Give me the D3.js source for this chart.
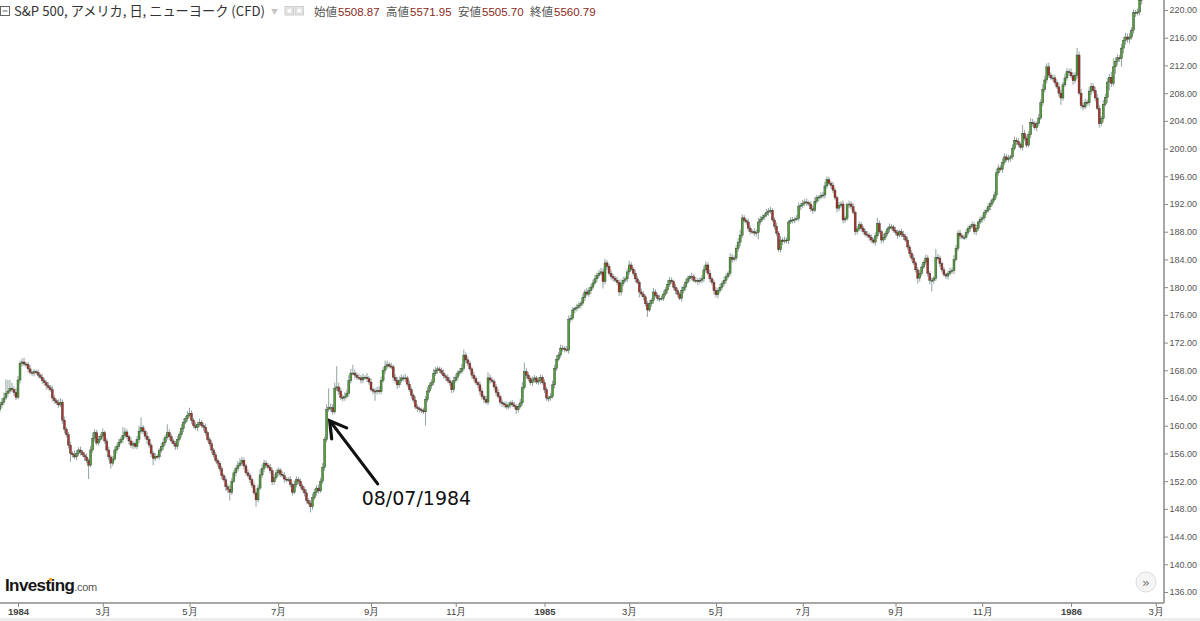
<!DOCTYPE html>
<html>
<head>
<meta charset="utf-8">
<title>S&amp;P 500 日足</title>
<style>
    body { margin: 0; background: #fff; }
    svg { display: block; }
    .ax text { font-family: 'Liberation Sans', Arial, sans-serif; }
</style>
</head>
<body>
<div id="chart"></div>
<script src="https://cdn.jsdelivr.net/npm/d3@7/dist/d3.min.js"></script>
<script>

// daily bars, one per weekday from this date
const firstDay = '1983-12-20'
const firstOpen = 162.0

const closes = [
    162.3,163.0,163.4,164.0,164.7,165.0,165.4,165.2,164.8,164.1,
    166.6,169.0,169.2,168.9,168.8,168.2,167.7,167.6,167.8,167.7,
    167.3,167.0,166.5,166.2,165.8,165.5,165.2,164.0,163.6,163.3,
    163.0,163.4,160.8,159.5,158.7,157.2,156.0,155.8,155.5,156.0,
    156.5,156.2,155.8,155.5,155.0,154.3,156.5,158.2,159.0,157.5,
    158.0,158.5,159.0,157.8,156.5,155.5,154.6,155.2,156.5,157.0,
    157.6,158.0,158.6,159.1,158.4,157.8,157.2,157.4,157.0,158.0,
    159.2,159.7,159.2,158.5,158.0,157.2,156.0,155.3,155.6,155.5,
    156.4,157.0,157.6,158.3,159.0,158.4,157.8,157.4,157.0,158.0,
    158.7,159.6,160.5,161.0,161.5,161.8,160.8,160.0,159.7,160.2,
    160.5,160.0,159.8,159.0,158.0,157.4,156.5,155.8,155.0,154.6,
    153.8,152.8,152.2,151.2,150.8,150.4,152.0,153.2,153.8,154.3,
    154.6,155.0,154.2,153.2,152.8,152.2,151.4,150.3,149.3,151.0,
    152.9,153.8,154.6,154.3,154.0,153.5,151.9,152.5,153.2,153.6,
    153.0,152.8,152.3,152.2,152.2,151.5,150.4,151.5,152.2,152.0,
    151.3,150.8,150.3,149.2,148.8,148.3,149.6,150.4,151.0,150.6,
    152.0,154.0,158.0,162.3,162.6,162.6,162.0,165.4,165.6,165.0,
    164.1,164.0,164.2,164.7,166.5,167.6,167.6,167.3,167.0,166.9,
    166.6,167.0,167.0,166.8,166.3,165.2,165.0,164.9,165.1,164.9,
    166.5,168.0,168.6,168.8,168.6,168.5,167.0,166.5,165.9,166.5,
    166.9,166.8,166.9,166.0,165.2,164.4,163.7,162.7,162.5,162.3,
    162.2,162.0,163.8,165.0,165.8,166.2,167.5,168.0,168.2,168.0,
    167.6,167.2,167.0,166.5,166.2,165.2,166.5,167.0,167.6,167.8,
    168.3,170.2,169.5,169.0,168.2,167.3,166.8,166.2,165.9,165.0,
    164.2,163.8,163.4,166.9,166.6,166.4,165.6,164.8,164.2,163.4,
    163.2,163.0,162.7,163.0,163.3,163.0,162.8,162.3,162.8,163.3,
    165.5,167.8,167.3,166.8,166.2,166.6,166.9,166.3,166.5,167.0,
    166.2,165.2,164.0,164.0,164.2,165.9,168.3,169.6,170.2,171.2,
    171.2,171.0,170.9,175.3,175.5,176.7,176.9,177.1,177.4,177.7,
    178.5,179.3,179.0,179.5,180.0,180.6,181.2,181.7,182.0,182.2,
    180.8,183.5,183.0,182.0,181.5,181.3,181.0,180.7,179.3,180.5,
    181.0,181.2,182.2,183.2,182.6,182.0,181.2,180.7,179.3,179.0,
    178.6,177.6,176.7,177.6,178.1,179.3,178.8,178.4,178.4,178.4,
    179.0,179.6,180.4,181.0,180.8,180.0,179.5,179.0,178.4,179.5,
    180.0,180.7,181.2,181.5,181.5,181.0,181.0,180.8,181.0,181.2,
    182.5,183.2,182.0,181.2,180.7,179.5,178.9,179.5,180.0,180.5,
    181.0,181.5,182.0,184.3,184.0,184.2,185.6,186.5,187.5,190.0,
    189.6,189.4,188.5,188.0,188.0,187.8,187.9,189.4,189.8,190.1,
    190.4,190.8,191.0,191.1,189.7,188.8,187.8,185.4,186.8,186.6,
    186.8,186.7,189.4,189.6,189.7,189.8,189.9,191.6,191.8,192.1,
    192.3,192.2,192.0,191.3,191.1,192.4,192.9,193.0,193.2,193.3,
    194.6,195.5,195.0,194.7,194.0,192.9,191.4,191.8,192.0,189.7,
    189.9,191.9,192.0,191.6,190.8,188.0,188.4,189.0,188.5,188.0,
    187.6,187.5,187.2,186.8,186.5,187.4,189.2,188.0,186.8,187.2,
    187.7,188.4,188.7,188.7,188.2,187.9,187.5,188.0,187.6,187.3,
    186.8,185.8,184.9,184.2,183.5,182.5,181.3,182.0,182.9,183.6,
    184.2,182.0,181.0,181.0,181.3,184.3,184.2,183.4,182.5,181.8,
    181.6,182.0,182.3,182.4,184.0,185.6,187.8,187.4,187.2,187.2,
    187.9,188.5,188.8,189.0,188.0,188.5,189.4,189.8,190.0,190.8,
    191.1,191.6,192.1,192.6,193.3,196.5,197.2,197.0,198.0,198.8,
    198.4,198.6,198.8,200.0,201.2,201.0,200.6,200.2,202.2,201.5,
    200.5,202.0,203.8,203.6,203.0,203.6,204.4,206.6,208.5,209.9,
    211.8,210.6,210.2,210.2,209.5,208.9,208.0,207.3,209.2,210.2,
    211.1,211.0,210.5,209.8,210.6,213.5,208.0,206.2,206.0,206.7,
    206.6,208.3,209.0,208.4,207.3,205.8,203.6,204.3,206.4,207.4,
    209.6,210.3,209.4,211.8,212.6,213.1,213.0,214.5,215.6,216.1,
    215.8,216.1,217.1,219.6,219.6,219.7,221.4,223.0
]

// how far each day's high / low reached past the body (index points)
const wickUp = [
    .4,.5,.6,.8,2.0,1.6,1.2,.8,.5,.6,
    .6,.4,.5,.6,.3,.4,.5,.3,.4,.3,
    .4,.3,.5,.4,.3,.5,.4,.6,.4,.3,
    .5,.6,.4,.5,.3,.4,.5,.3,.6,.5,
    .4,.5,.3,.4,.5,.3,.6,.8,.5,.4,
    .5,.4,.6,.3,.4,.5,.3,.4,.5,.4,
    .5,.4,1.2,.6,.4,.3,.5,.4,.3,.5,
    .8,1.5,.4,.3,.5,.4,.3,.4,.5,.3,
    .4,.5,.6,.4,1.2,.5,.4,.3,.4,.5,
    .5,.6,.5,.4,.6,.8,.4,.3,.5,.4,
    .5,.3,.4,.5,.3,.4,.5,.3,.4,.3,
    .3,.4,.3,.5,.4,.6,.5,.4,.3,.6,
    .7,.5,.4,.3,.5,.4,.3,.4,.6,.5,
    .8,.6,.5,.4,.3,.5,.4,.6,.5,.4,
    .3,.4,.5,.3,.4,.5,.3,.6,.5,.4,
    .4,.3,.4,.5,.3,.4,.6,.5,.4,.5,
    .5,.6,.4,.8,2.8,.6,.5,.8,3.0,.6,
    .5,.4,.6,.5,.8,.6,1.2,.5,.4,.5,
    .4,.5,.3,.6,.4,.5,.3,.4,.5,.6,
    .6,.5,.8,.6,.4,.5,.3,.4,.5,.6,
    .5,.4,.6,.3,.5,.4,.3,.5,.4,.3,
    .3,.4,.5,.6,.4,.5,.7,.5,.4,.3,
    .4,.5,.3,.4,.5,.3,.6,.5,.4,.5,
    .6,.8,.4,.5,.4,.3,.5,.4,.3,.5,
    .4,.3,.5,.8,.5,.4,.3,.4,.5,.3,
    .4,.3,.5,.4,.3,.4,.5,.3,.4,.6,
    .8,1.3,.5,.4,.3,.5,.4,.3,.5,.4,
    .3,.5,.4,.3,.5,.6,.5,.6,.4,.5,
    .4,.3,.5,.6,.5,.4,.3,.5,.4,.3,
    .5,.4,.6,.5,.4,.5,.6,.4,.5,.6,
    .5,.6,.4,.3,.5,.4,.3,.5,.4,.6,
    .5,.4,.5,.6,.4,.3,.5,.4,.3,.5,
    .4,.3,.4,.5,.3,.6,.4,.3,.5,.4,
    .5,.4,.6,.5,.4,.3,.5,.4,.3,.6,
    .4,.5,.4,.3,.6,.4,.5,.3,.4,.5,
    .6,.5,.4,.5,.3,.4,.5,.4,.5,.4,
    .5,.4,.3,.6,.5,.4,.5,.6,.8,.5,
    .4,.3,.5,.4,.3,.5,.4,.6,.5,.4,
    .3,.5,.4,.5,.3,.4,.5,.3,.6,.4,
    .5,.4,.3,.5,.4,.3,.5,.6,.4,.5,
    .4,.5,.3,.4,.5,.6,.4,.3,.5,.4,
    .6,.5,.4,.3,.5,.4,.3,.5,.4,.5,
    .4,.3,.5,.4,.5,.3,.4,.5,.4,.3,
    .4,.5,.3,.4,.3,.5,.8,.4,.3,.5,
    .4,.3,.5,.4,.3,.5,.4,.3,.4,.5,
    .4,.5,.3,.4,.5,.3,.4,.5,.4,.3,
    .5,.4,.3,.4,.3,1.2,.5,.4,.3,.4,
    .3,.4,.5,.4,.6,.5,.4,.5,.3,.4,
    .5,.4,.3,.5,.4,.5,.3,.4,.5,.4,
    .4,.5,.4,.3,.5,.6,.5,.4,.6,.5,
    .4,.5,.3,.6,.5,.4,.5,.3,1.2,.5,
    .4,.5,.6,.5,.4,.3,.6,.5,.8,.6,
    .5,.6,.4,.5,.4,.5,.6,.5,.4,.6,
    .5,.4,.6,.5,.4,1.0,.5,.6,.4,.5,
    .4,.6,.5,.4,.5,.6,.5,.4,.6,.5,
    .6,.5,.8,1.2,.6,.5,.4,.6,.5,.6,
    .5,.6,.4,.5,.4,.5,.6,.8
]

const wickDown = [
    .3,.4,.5,.4,.3,.5,.4,.3,.5,.4,
    .3,.5,.4,.3,.4,.5,.3,.4,.5,.3,
    .4,.3,.5,.4,.6,.4,.3,.5,.4,.3,
    .4,.3,.5,.6,.4,.5,1.2,.4,.3,.5,
    .4,.5,.3,.6,.4,2.0,.3,.4,.5,.3,
    .4,.3,.5,.4,.3,.5,.8,.4,.3,.5,
    .4,.3,.5,.4,.3,.5,.4,.6,.3,.4,
    .5,.3,.4,.5,.6,.4,.5,1.0,.4,.3,
    .4,.3,.5,.4,.3,.5,.4,.3,.5,.4,
    .3,.4,.5,.3,.4,.3,.5,.4,.3,.5,
    .4,.3,.5,.4,.3,.4,.5,.4,.3,.5,
    .4,.5,.3,.6,.5,1.2,.4,.3,.5,.4,
    .3,.4,.5,.4,.3,.5,.4,.3,1.0,.4,
    .3,.4,.5,.4,.3,.4,.5,.4,.3,.5,
    .4,.3,.5,.4,.3,.4,.5,.3,.4,.5,
    .4,.3,.5,.4,.3,.8,.4,.3,.5,.4,
    .3,.4,.5,.4,.3,.5,.4,.3,.4,.5,
    .4,.5,.4,.3,.5,.4,.3,.5,.4,.3,
    .5,.4,.3,.5,.4,.3,.5,1.3,.4,.3,
    .4,.3,.5,.4,.3,.4,.5,.4,.6,.4,
    .3,.4,.5,.4,.3,.5,.4,.3,.5,.4,
    .4,.3,2.0,.4,.3,.5,.4,.3,.5,.4,
    .3,.4,.5,.3,.4,.5,.4,.3,.5,.4,
    .3,.4,.5,.4,.3,.5,.4,.3,.5,.6,
    .4,.5,.3,.4,.5,.3,.4,.5,.3,.4,
    .5,.4,.3,.4,.5,.3,.4,.6,.4,.3,
    .4,.3,.5,.4,.3,.5,.4,.3,.4,.5,
    .3,.5,.4,.6,.4,.3,.5,.4,.3,.4,
    .5,.4,.3,.5,.4,.3,.5,.4,.3,.5,
    .4,.5,.3,.4,.5,.4,.3,.5,.4,.3,
    1.0,.4,.5,.3,.4,.5,.3,.4,.6,.5,
    .4,.3,.5,.4,.3,.4,.5,.3,.8,.4,
    .5,.4,1.0,.3,.4,.5,.3,.4,.5,.3,
    .4,.3,.5,.4,.3,.4,.5,.4,.3,.5,
    .4,.5,.3,.4,.5,.3,.4,.5,.3,.4,
    .5,.4,.3,.5,.4,.6,.4,.5,.3,.4,
    .4,.5,.3,.4,.5,.3,.4,.5,.6,.4,
    .3,.4,.5,.4,.3,.4,.5,1.0,.4,.3,
    .4,.3,.5,.4,.3,.5,.4,.3,.4,.5,
    .3,.4,.5,.3,.4,.5,.3,.4,.5,.4,
    .4,.5,.3,.4,.5,.3,.4,.5,.3,.4,
    .5,.4,.3,.5,.4,.3,.6,.4,.3,.5,
    .4,.3,.5,.4,.3,.5,.4,.3,.5,.4,
    .3,.4,.5,.4,.3,.5,.4,.3,.5,.4,
    .4,.3,.5,.4,.3,.4,.5,.3,.4,.5,
    .3,.4,.5,.4,.3,.4,.8,.5,.4,.3,
    .4,.5,.6,1.6,.5,.4,.3,.5,.4,.3,
    .4,.5,.3,.4,.5,.3,.4,.5,.3,.4,
    .3,.4,.5,.3,.4,.5,.4,.3,.5,.4,
    .4,.3,.5,.4,.3,.5,.4,.3,.5,.4,
    .3,.4,.5,.4,.3,.5,.4,.3,.5,.4,
    .4,.3,.5,.4,.3,.5,.4,.3,.5,.4,
    .5,.4,.3,.5,.4,.3,.5,1.0,.4,.3,
    .4,.5,.3,.6,.4,.5,.3,.4,.5,.3,
    .4,.5,.6,.4,.5,.3,.6,.4,.5,.3,
    .8,1.2,.5,.4,1.0,.6,.5,1.2,.8,.6,
    .5,.6,.4,.5,.6,.4,.5,.6
]

const priceTicks = [136,140,144,148,152,156,160,164,168,172,176,180,184,188,192,196,200,204,208,212,216,220]

const tickDates = ['1984-01-03','1984-03-01','1984-05-01','1984-07-02','1984-09-04','1984-11-01',
    '1985-01-02','1985-03-01','1985-05-01','1985-07-01','1985-09-03','1985-11-01','1986-01-02','1986-03-03']
const tickLabels = ['1984','3月','5月','7月','9月','11月','1985','3月','5月','7月','9月','11月','1986','3月']

const title = 'S&P 500, アメリカ, 日, ニューヨーク (CFD)'
const quoteLabels = ['始値','高値','安値','終値']
const quoteValues = ['5508.87','5571.95','5505.70','5560.79']

const noteDay = '1984-08-07'
const notePrice = 160.7
const noteText = '08/07/1984'

// ---------------------------------------------------------------

const W = 1200, H = 621
const plotW = 1164, plotH = 603

const parseDay = d3.timeParse('%Y-%m-%d')
const start = parseDay(firstDay)
const isWeekday = d => d.getDay() > 0 && d.getDay() < 6
const dayIndex = s => d3.timeDay.range(start, parseDay(s)).filter(isWeekday).length

const candles = closes.map((c, i) => {
    const o = i === 0 ? firstOpen : closes[i - 1]
    return {
        i: i,
        open: o,
        close: c,
        high: Math.max(o, c) + (wickUp[i] || 0),
        low: Math.min(o, c) - (wickDown[i] || 0)
    }
})

const tickIdx = tickDates.map(dayIndex)

const x = d3.scaleLinear()
    .domain([dayIndex('1984-01-03'), dayIndex('1986-01-02')])
    .range([18, 1071])

const y = d3.scaleLinear()
    .domain([136, 220])
    .range([592, 10])

const svg = d3.select('#chart').append('svg')
    .attr('width', W)
    .attr('height', H)

svg.append('defs').append('clipPath').attr('id', 'plot')
    .append('rect').attr('x', 0).attr('y', 0).attr('width', plotW).attr('height', plotH)

// bottom strip
svg.append('rect')
    .attr('x', 0).attr('y', 618).attr('width', W).attr('height', H - 618)
    .attr('fill', '#eeeeee')

// candles
const g = svg.append('g').attr('clip-path', 'url(#plot)')
const bw = 2.0

g.append('g').selectAll('line')
    .data(candles)
    .join('line')
    .attr('x1', d => x(d.i)).attr('x2', d => x(d.i))
    .attr('y1', d => y(d.high)).attr('y2', d => y(d.low))
    .attr('stroke', '#94a3a3')
    .attr('stroke-width', 1)

g.append('g').selectAll('rect')
    .data(candles)
    .join('rect')
    .attr('x', d => x(d.i) - bw / 2)
    .attr('width', bw)
    .attr('y', d => y(Math.max(d.open, d.close)))
    .attr('height', d => Math.max(1, Math.abs(y(d.open) - y(d.close))))
    .attr('fill', d => d.close >= d.open ? '#4fa137' : '#a8342a')
    .attr('stroke', '#333')
    .attr('stroke-width', 0.4)

// axes
const yAxis = svg.append('g')
    .attr('class', 'ax')
    .attr('transform', `translate(${plotW},0)`)
    .call(d3.axisRight(y).tickValues(priceTicks).tickFormat(d3.format('.2f')).tickSize(4).tickSizeOuter(0))
yAxis.select('.domain').remove()
yAxis.selectAll('.tick line').attr('stroke', '#8a8a8a')
yAxis.selectAll('.tick text')
    .attr('x', 5.5)
    .attr('fill', '#555')
    .attr('font-size', 9)

const xAxis = svg.append('g')
    .attr('class', 'ax')
    .attr('transform', `translate(0,${plotH})`)
    .call(d3.axisBottom(x).tickValues(tickIdx).tickFormat((d, k) => tickLabels[k]).tickSize(4).tickSizeOuter(0))
xAxis.select('.domain').remove()
xAxis.selectAll('.tick line').attr('stroke', '#8a8a8a')
xAxis.selectAll('.tick text')
    .attr('y', 5)
    .attr('fill', '#444')
    .attr('font-size', 9.5)
    .attr('font-weight', (d, k) => /^\d{4}$/.test(tickLabels[k]) ? 'bold' : 'normal')

svg.append('line')
    .attr('x1', plotW).attr('x2', plotW).attr('y1', 0).attr('y2', plotH)
    .attr('stroke', '#8a8a8a').attr('stroke-width', 1.5)
svg.append('line')
    .attr('x1', 0).attr('x2', plotW).attr('y1', plotH).attr('y2', plotH)
    .attr('stroke', '#8a8a8a').attr('stroke-width', 1.5)

// header
const head = svg.append('g').attr('font-family', "'Noto Sans CJK JP', 'Noto Sans', sans-serif")
head.append('rect').attr('x', 0.5).attr('y', 6.5).attr('width', 9).attr('height', 9)
    .attr('fill', 'none').attr('stroke', '#666')
head.append('line').attr('x1', 2.5).attr('x2', 7.5).attr('y1', 11).attr('y2', 11).attr('stroke', '#666')
head.append('text')
    .attr('x', 14).attr('y', 16)
    .attr('font-size', 13.2)
    .attr('fill', '#333')
    .text(title)
head.append('text').attr('x', 271).attr('y', 14).attr('font-size', 7).attr('fill', '#c4c4c4').text('▼')
head.selectAll('rect.ic')
    .data([285, 295])
    .join('rect')
    .attr('class', 'ic')
    .attr('x', d => d).attr('y', 6.5).attr('width', 8.5).attr('height', 8.5)
    .attr('fill', '#e2e2e2').attr('stroke', '#cfcfcf')
head.selectAll('circle.ic')
    .data([289.25, 299.25])
    .join('circle')
    .attr('class', 'ic')
    .attr('cx', d => d).attr('cy', 10.75).attr('r', 2)
    .attr('fill', '#fff')

const quotes = head.selectAll('g.q')
    .data(quoteLabels)
    .join('g')
    .attr('class', 'q')
    .attr('transform', (d, k) => `translate(${314 + k * 72},16)`)
quotes.append('text')
    .attr('font-size', 11.5)
    .attr('fill', '#555')
    .text(d => d)
quotes.append('text')
    .attr('x', 24)
    .attr('font-size', 11.5)
    .attr('font-family', "'Liberation Sans', Arial, sans-serif")
    .attr('fill', '#8c2a22')
    .text((d, k) => quoteValues[k])

// annotation arrow
const tipX = x(dayIndex(noteDay)) - 1, tipY = y(notePrice)
svg.append('path')
    .attr('d', `M${tipX + 48},${tipY + 63} L${tipX + 1},${tipY + 1}`)
    .attr('stroke', '#111').attr('stroke-width', 3.2).attr('fill', 'none').attr('stroke-linecap', 'round')
svg.append('path')
    .attr('d', `M${tipX + 17},${tipY + 7} L${tipX},${tipY} L${tipX + 2},${tipY + 18}`)
    .attr('stroke', '#111').attr('stroke-width', 3.2).attr('fill', 'none')
    .attr('stroke-linecap', 'round').attr('stroke-linejoin', 'miter')
svg.append('text')
    .attr('x', tipX + 32).attr('y', tipY + 84)
    .attr('font-family', "'DejaVu Sans', sans-serif")
    .attr('font-size', 19)
    .attr('fill', '#111')
    .text(noteText)

// logo
const logo = svg.append('text')
    .attr('x', 5).attr('y', 591)
    .attr('font-family', "'Liberation Sans', Arial, sans-serif")
logo.append('tspan').attr('font-size', 17).attr('font-weight', 'bold')
    .attr('letter-spacing', -0.6).attr('fill', '#151515').text('Investing')
logo.append('tspan').attr('font-size', 11).attr('fill', '#555').attr('letter-spacing', -0.3).text('.com')
svg.append('circle').attr('cx', 50.5).attr('cy', 579.5).attr('r', 1.8).attr('fill', '#f5a21b')

// scroll button
svg.append('circle').attr('cx', 1146).attr('cy', 582).attr('r', 10)
    .attr('fill', '#f5f5f5').attr('stroke', '#dcdcdc')
svg.append('text').attr('x', 1146).attr('y', 586.5)
    .attr('text-anchor', 'middle').attr('font-size', 13)
    .attr('font-family', "'DejaVu Sans', sans-serif")
    .attr('fill', '#777').text('»')

</script>
</body>
</html>
